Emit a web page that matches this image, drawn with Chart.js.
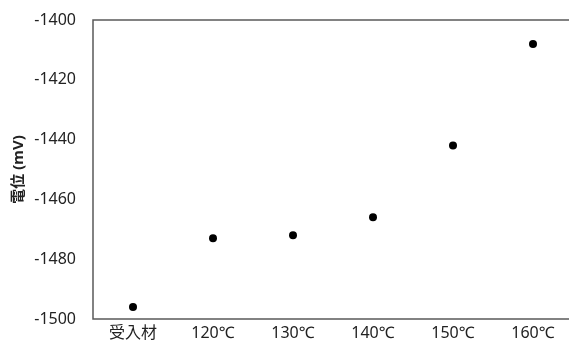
<!DOCTYPE html>
<html>
<head>
<meta charset="utf-8">
<script src="https://cdn.jsdelivr.net/npm/chart.js@4/dist/chart.umd.min.js"></script>
<style>
    html, body { margin: 0; padding: 0; background: #fff; overflow: hidden; }
    #wrap { width: 577px; height: 352px; }
</style>
</head>
<body>
<div id="wrap"><canvas id="potential-chart" width="577" height="352"></canvas></div>
<script>
// Dữ liệu
const categories = ['受入材', '120℃', '130℃', '140℃', '150℃', '160℃'];
const potentials = [-1496, -1473, -1472, -1466, -1442, -1408];
const yTicks = [-1500, -1480, -1460, -1440, -1420, -1400];

const FONT = "'Noto Sans', 'Noto Sans CJK JP', sans-serif";

// Khung: trên, trái, dưới (cạnh phải nằm ngoài ảnh)
const frame = {
    id: 'frame',
    afterDraw(chart) {
        const a = chart.chartArea;
        const ctx = chart.ctx;
        ctx.save();
        ctx.strokeStyle = '#595959';
        ctx.lineWidth = 1.5;
        ctx.beginPath();
        ctx.moveTo(chart.width, a.top);
        ctx.lineTo(a.left, a.top);
        ctx.lineTo(a.left, a.bottom);
        ctx.lineTo(chart.width, a.bottom);
        ctx.stroke();
        ctx.restore();
    }
};

const ctx = document.getElementById('potential-chart').getContext('2d');
new Chart(ctx, {
    type: 'line',
    data: {
        labels: categories,
        datasets: [{
            data: potentials,
            showLine: false,
            pointRadius: 4,
            pointBackgroundColor: '#000',
            pointBorderColor: '#000',
            pointBorderWidth: 0
        }]
    },
    options: {
        responsive: false,
        animation: false,
        layout: { padding: { top: 20, right: 1, left: 0, bottom: 0 } },
        plugins: { legend: { display: false }, tooltip: { enabled: false } },
        scales: {
            x: {
                offset: true,
                grid: { display: false, drawTicks: false },
                border: { display: false },
                ticks: {
                    padding: 5,
                    color: '#222',
                    maxRotation: 0,
                    font: { family: FONT, size: 16 }
                },
                afterFit(scale) { scale.height = 33; }
            },
            y: {
                min: -1500,
                max: -1400,
                grid: { display: false, drawTicks: false },
                border: { display: false },
                afterBuildTicks(scale) { scale.ticks = yTicks.map(v => ({ value: v })); },
                ticks: {
                    padding: 17,
                    color: '#222',
                    font: { family: FONT, size: 16 },
                    callback: v => String(v)
                },
                title: {
                    display: true,
                    text: '電位 (mV)',
                    color: '#222',
                    padding: { top: 10, bottom: 0 },
                    font: { family: FONT, size: 15, weight: 'bold' }
                },
                afterFit(scale) {
                    scale.width = 93;
                    scale.paddingTop = 0;
                    scale.paddingBottom = 0;
                }
            }
        }
    },
    plugins: [frame]
});
</script>
</body>
</html>
